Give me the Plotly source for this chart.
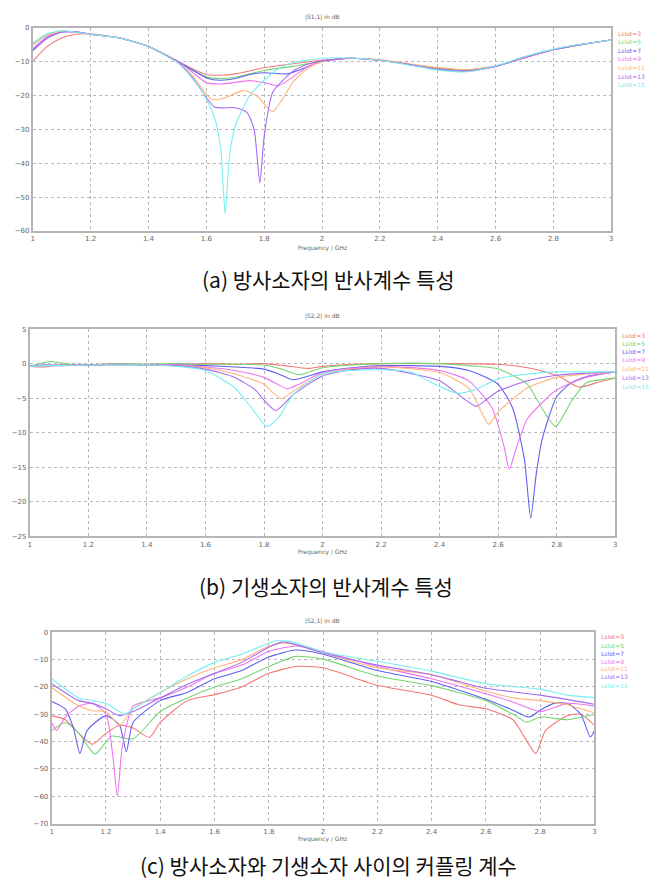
import plotly.graph_objects as go

W, H = 660, 892

names = ["Lslot=3", "Lslot=5", "Lslot=7", "Lslot=9", "Lslot=11", "Lslot=13", "Lslot=15"]
colors = ["#f47878", "#74d674", "#6060f0", "#ee74ee", "#ffb47a", "#a66cf0", "#78eef0"]

# ---------------- (a) |S1,1| in dB ----------------
common_a_x = [1.0, 1.05, 1.1, 1.15, 1.2, 1.3, 1.4, 1.5, 1.55]
a_right_x = [2.1, 2.2, 2.3, 2.4, 2.5, 2.6, 2.7, 2.8, 2.9, 3.0]
a_right_y = [-9.0, -9.6, -10.8, -12.0, -12.6, -11.4, -8.8, -6.5, -4.9, -3.6]

s11_x = {
    "Lslot=3":  [1.6, 1.65, 1.7, 1.8, 1.9, 2.0],
    "Lslot=5":  [1.6, 1.65, 1.7, 1.8, 1.9, 2.0],
    "Lslot=7":  [1.6, 1.65, 1.7, 1.75, 1.8, 1.88, 1.95, 2.0],
    "Lslot=9":  [1.6, 1.65, 1.75, 1.8, 1.85, 1.9, 1.95, 2.0],
    "Lslot=11": [1.6, 1.62, 1.66, 1.73, 1.78, 1.81, 1.83, 1.86, 1.9, 1.95, 2.0],
    "Lslot=13": [1.6, 1.63, 1.7, 1.74, 1.765, 1.785, 1.8, 1.83, 1.9, 1.95, 2.0],
    "Lslot=15": [1.6, 1.63, 1.65, 1.665, 1.68, 1.7, 1.75, 1.8, 1.85, 1.9, 2.0],
}
s11_y = {
    "Lslot=3":  [-13.8, -14.0, -13.6, -11.8, -10.6, -9.6],
    "Lslot=5":  [-14.5, -15.0, -14.6, -12.6, -11.4, -9.9],
    "Lslot=7":  [-14.8, -15.5, -15.0, -13.8, -13.3, -13.6, -11.5, -9.8],
    "Lslot=9":  [-16.2, -16.6, -15.6, -16.2, -17.1, -14.5, -11.5, -9.9],
    "Lslot=11": [-19.6, -21.2, -20.8, -18.5, -20.5, -23.5, -24.8, -21.5, -16.0, -12.0, -10.0],
    "Lslot=13": [-20.6, -23.5, -23.6, -25.0, -30.0, -45.8, -32.0, -19.0, -12.8, -10.8, -9.8],
    "Lslot=15": [-21.0, -27.0, -36.0, -55.0, -38.0, -29.0, -20.0, -15.5, -12.0, -10.3, -9.0],
}
s11_left = {
    "Lslot=3":  [-9.9, -5.5, -3.0, -1.9, -1.8, -3.0, -5.5, -9.8, -12.0],
    "Lslot=5":  [-4.6, -2.0, -1.0, -1.4, -1.9, -3.0, -5.5, -9.9, -12.3],
    "Lslot=7":  [-6.6, -3.0, -1.2, -1.2, -1.9, -3.0, -5.5, -9.9, -12.4],
    "Lslot=9":  [-6.2, -2.6, -1.1, -1.3, -1.9, -3.0, -5.5, -10.0, -13.0],
    "Lslot=11": [-5.0, -2.2, -1.0, -1.4, -1.9, -3.0, -5.5, -10.2, -14.0],
    "Lslot=13": [-6.8, -3.0, -1.3, -1.2, -1.9, -3.0, -5.5, -10.2, -14.5],
    "Lslot=15": [-4.6, -1.8, -0.9, -1.3, -1.9, -3.0, -5.5, -10.3, -14.8],
}
a_right_off = {
    "Lslot=3": [0.0, 0.0, -0.1, 0.0, 0.1, 0.1, 0.0, 0.1, 0.0, 0.0],
    "Lslot=5": [0.0, 0.1, 0.0, 0.1, 0.1, 0.0, 0.0, 0.0, 0.0, 0.0],
    "Lslot=7": [0.0, 0.0, 0.0, -0.2, -0.1, 0.0, 0.0, 0.0, 0.0, 0.0],
    "Lslot=9": [0.0, 0.0, 0.0, -0.2, -0.2, 0.0, -0.1, 0.0, 0.0, 0.0],
    "Lslot=11": [0.0, 0.2, 0.2, 0.3, 0.2, 0.1, 0.0, 0.0, 0.0, 0.0],
    "Lslot=13": [0.0, 0.0, 0.0, -0.3, -0.2, 0.0, 0.0, 0.0, 0.0, 0.0],
    "Lslot=15": [0.1, 0.0, -0.2, -0.5, -0.4, 0.1, 0.3, 0.2, 0.1, 0.0],
}

# ---------------- (b) |S2,2| in dB ----------------
s22_x = {
    "Lslot=3":  [1.0, 1.05, 1.1, 1.2, 1.3, 1.4, 1.5, 1.6, 1.7, 1.8, 1.87, 1.95, 2.0, 2.1, 2.2, 2.4, 2.6, 2.7, 2.8, 2.876, 2.95, 3.0],
    "Lslot=5":  [1.0, 1.07, 1.12, 1.2, 1.3, 1.4, 1.5, 1.6, 1.7, 1.8, 1.86, 1.92, 2.0, 2.1, 2.2, 2.4, 2.5, 2.6, 2.7, 2.75, 2.796, 2.85, 2.9, 3.0],
    "Lslot=7":  [1.0, 1.05, 1.1, 1.2, 1.3, 1.4, 1.5, 1.6, 1.7, 1.8, 1.85, 1.9, 2.0, 2.1, 2.2, 2.4, 2.5, 2.6, 2.65, 2.69, 2.711, 2.73, 2.75, 2.8, 2.85, 2.9, 3.0],
    "Lslot=9":  [1.0, 1.05, 1.1, 1.2, 1.3, 1.4, 1.5, 1.6, 1.7, 1.8, 1.85, 1.88, 1.92, 2.0, 2.1, 2.2, 2.4, 2.5, 2.58, 2.62, 2.638, 2.66, 2.7, 2.8, 2.9, 3.0],
    "Lslot=11": [1.0, 1.05, 1.1, 1.2, 1.3, 1.4, 1.5, 1.6, 1.7, 1.8, 1.83, 1.86, 1.9, 2.0, 2.1, 2.2, 2.4, 2.5, 2.54, 2.568, 2.6, 2.7, 2.8, 2.9, 3.0],
    "Lslot=13": [1.0, 1.05, 1.1, 1.2, 1.3, 1.4, 1.5, 1.6, 1.7, 1.77, 1.8, 1.84, 1.9, 2.0, 2.1, 2.2, 2.4, 2.48, 2.525, 2.56, 2.6, 2.7, 2.8, 2.9, 3.0],
    "Lslot=15": [1.0, 1.05, 1.1, 1.2, 1.3, 1.4, 1.5, 1.6, 1.7, 1.75, 1.81, 1.85, 1.9, 2.0, 2.1, 2.2, 2.3, 2.36, 2.46, 2.52, 2.6, 2.7, 2.8, 2.9, 3.0],
}
s22_y = {
    "Lslot=3":  [-0.4, -0.5, -0.2, -0.2, 0.0, -0.1, -0.1, 0.0, -0.1, 0.0, -0.3, -0.7, -0.4, -0.1, 0.0, 0.0, -0.1, -0.6, -1.7, -3.4, -2.6, -2.1],
    "Lslot=5":  [-0.4, 0.3, 0.0, -0.3, 0.0, -0.1, 0.0, -0.1, -0.1, -0.2, -0.8, -1.6, -0.6, -0.2, 0.0, 0.0, -0.3, -0.8, -3.0, -6.5, -9.1, -5.5, -2.8, -2.1],
    "Lslot=7":  [-0.3, -0.2, -0.2, -0.2, -0.1, -0.2, -0.2, -0.3, -0.5, -0.8, -1.5, -2.35, -1.2, -0.6, -0.3, -0.4, -1.0, -3.0, -6.5, -14.0, -22.4, -16.0, -11.0, -4.8, -2.8, -1.9, -1.2],
    "Lslot=9":  [-0.4, -0.2, -0.3, -0.2, -0.1, -0.2, -0.2, -0.5, -1.0, -2.0, -3.1, -3.65, -3.0, -1.3, -0.7, -0.4, -1.0, -2.5, -6.5, -12.0, -15.3, -12.5, -8.0, -3.8, -2.0, -1.2],
    "Lslot=11": [-0.4, -0.3, -0.2, -0.2, -0.1, -0.2, -0.3, -0.6, -1.5, -3.0, -4.2, -5.1, -4.0, -1.5, -0.8, -0.5, -1.3, -3.6, -6.8, -8.8, -7.0, -3.5, -2.0, -1.5, -1.2],
    "Lslot=13": [-0.4, -0.3, -0.3, -0.2, -0.2, -0.2, -0.3, -0.8, -2.0, -3.8, -5.3, -6.8, -4.5, -1.8, -0.9, -0.7, -2.5, -5.0, -6.2, -5.2, -4.0, -2.5, -1.7, -1.4, -1.2],
    "Lslot=15": [-0.4, -0.3, -0.3, -0.2, -0.2, -0.2, -0.4, -1.0, -3.5, -6.0, -9.1, -7.8, -4.5, -1.5, -1.0, -0.9, -1.2, -2.5, -4.3, -3.8, -2.2, -1.5, -1.2, -1.2, -1.2],
}

# ---------------- (c) |S2,1| in dB ----------------
s21_x = {
    "Lslot=3":  [1.0, 1.05, 1.1, 1.15, 1.2, 1.25, 1.3, 1.36, 1.4, 1.5, 1.6, 1.7, 1.8, 1.9, 2.0, 2.2, 2.4, 2.5, 2.6, 2.7, 2.74, 2.784, 2.82, 2.9, 2.95, 3.0],
    "Lslot=5":  [1.0, 1.05, 1.1, 1.16, 1.22, 1.3, 1.4, 1.5, 1.6, 1.7, 1.8, 1.9, 2.0, 2.2, 2.4, 2.6, 2.7, 2.75, 2.8, 2.9, 3.0],
    "Lslot=7":  [1.0, 1.05, 1.08, 1.104, 1.13, 1.2, 1.25, 1.275, 1.3, 1.4, 1.5, 1.6, 1.7, 1.8, 1.9, 2.0, 2.2, 2.4, 2.6, 2.7, 2.76, 2.8, 2.85, 2.9, 2.95, 2.985, 3.0],
    "Lslot=9":  [1.0, 1.018, 1.05, 1.1, 1.15, 1.2, 1.225, 1.242, 1.26, 1.3, 1.4, 1.5, 1.6, 1.7, 1.8, 1.9, 2.0, 2.2, 2.4, 2.6, 2.7, 2.8, 2.9, 3.0],
    "Lslot=11": [1.0, 1.1, 1.15, 1.2, 1.25, 1.3, 1.4, 1.5, 1.6, 1.7, 1.8, 1.85, 1.9, 2.0, 2.2, 2.4, 2.6, 2.7, 2.8, 2.9, 3.0],
    "Lslot=13": [1.0, 1.1, 1.15, 1.2, 1.25, 1.3, 1.4, 1.5, 1.6, 1.7, 1.8, 1.85, 1.9, 2.0, 2.2, 2.4, 2.5, 2.6, 2.8, 3.0],
    "Lslot=15": [1.0, 1.1, 1.15, 1.2, 1.27, 1.3, 1.4, 1.5, 1.6, 1.7, 1.8, 1.83, 1.9, 2.0, 2.2, 2.4, 2.6, 2.8, 2.9, 3.0],
}
s21_y = {
    "Lslot=3":  [-30.5, -32.0, -37.0, -41.0, -37.0, -34.0, -35.0, -38.5, -33.0, -25.0, -22.8, -20.0, -15.0, -12.5, -13.0, -19.4, -23.0, -26.5, -28.0, -32.0, -38.0, -44.3, -36.0, -30.5, -30.0, -34.0],
    "Lslot=5":  [-36.0, -33.0, -37.0, -44.6, -38.0, -39.0, -29.0, -24.0, -20.0, -17.0, -12.5, -8.8, -9.8, -16.0, -19.5, -25.0, -30.0, -32.9, -31.0, -32.0, -30.0],
    "Lslot=7":  [-25.3, -28.0, -35.0, -44.3, -36.0, -30.5, -34.0, -43.7, -33.0, -25.0, -22.0, -17.0, -14.0, -9.0, -6.5, -8.0, -14.0, -18.0, -24.5, -28.5, -31.0, -28.5, -26.0, -26.0, -30.0, -38.3, -36.0],
    "Lslot=9":  [-33.0, -35.9, -31.0, -27.0, -26.0, -30.0, -45.0, -60.0, -42.0, -27.0, -24.0, -20.0, -15.0, -12.0, -7.0, -5.0, -7.0, -12.5, -17.0, -22.5, -25.5, -29.0, -26.0, -27.0],
    "Lslot=11": [-20.2, -27.0, -28.7, -29.0, -34.0, -28.0, -22.0, -17.0, -13.0, -10.0, -5.0, -4.0, -4.5, -7.5, -13.0, -15.5, -21.5, -24.0, -25.0, -26.5, -29.5],
    "Lslot=13": [-18.8, -25.0, -26.0, -28.0, -30.5, -29.0, -24.0, -19.0, -15.0, -11.0, -5.5, -3.5, -4.5, -7.5, -12.0, -15.5, -18.0, -20.5, -23.0, -26.3],
    "Lslot=15": [-17.0, -24.0, -25.0, -26.0, -30.0, -28.0, -22.0, -16.0, -11.0, -8.0, -4.0, -3.0, -3.8, -7.2, -10.6, -14.2, -18.8, -20.8, -23.0, -23.9],
}

fig = go.Figure()

def px_x(p):
    return p / W

def px_y(p):
    return 1 - p / H

# panel definitions: (xaxis name, yaxis name, x-domain px, y-domain px, y range, y dtick)
panels = [
    ("x", "y", (31, 613), (24, 229), (-60, 0), 10),
    ("x2", "y2", (28, 617), (328, 537), (-25, 5), 5),
    ("x3", "y3", (50, 596), (634, 827), (-70, 0), 10),
]

for i, n in enumerate(names):
    xa = common_a_x + s11_x[n] + a_right_x
    ya = s11_left[n] + s11_y[n] + [a + b for a, b in zip(a_right_y, a_right_off[n])]
    fig.add_trace(go.Scatter(x=xa, y=ya, mode="lines", name=n, showlegend=False,
                             line=dict(color=colors[i], width=1.1, shape="spline", smoothing=0.6),
                             xaxis="x", yaxis="y"))
    fig.add_trace(go.Scatter(x=s22_x[n], y=s22_y[n], mode="lines", name=n, showlegend=False,
                             line=dict(color=colors[i], width=1.1, shape="spline", smoothing=0.6),
                             xaxis="x2", yaxis="y2"))
    fig.add_trace(go.Scatter(x=s21_x[n], y=s21_y[n], mode="lines", name=n, showlegend=False,
                             line=dict(color=colors[i], width=1.1, shape="spline", smoothing=0.6),
                             xaxis="x3", yaxis="y3"))

axis_common = dict(showline=True, mirror=True, linecolor="#b5b5b5", linewidth=2,
                   showgrid=True, gridcolor="#b8b8b8", griddash="dot", gridwidth=1,
                   zeroline=False, ticks="", tickfont=dict(family="DejaVu Sans", size=7, color="#666666"))

layout = dict(width=W, height=H, margin=dict(l=0, r=0, t=0, b=0),
              paper_bgcolor="white", plot_bgcolor="white", showlegend=False)

for k, (xn, yn, xd, yd, yr, dt) in enumerate(panels):
    xkey = "xaxis" if xn == "x" else "xaxis" + xn[1:]
    ykey = "yaxis" if yn == "y" else "yaxis" + yn[1:]
    layout[xkey] = dict(axis_common, domain=[px_x(xd[0]), px_x(xd[1])], range=[1, 3],
                        tickvals=[1, 1.2, 1.4, 1.6, 1.8, 2, 2.2, 2.4, 2.6, 2.8, 3],
                        ticktext=["1", "1.2", "1.4", "1.6", "1.8", "2", "2.2", "2.4", "2.6", "2.8", "3"],
                        anchor=yn)
    layout[ykey] = dict(axis_common, domain=[px_y(yd[1]), px_y(yd[0])], range=list(yr),
                        dtick=dt, anchor=xn)

fig.update_layout(**layout)

annots = []
small = dict(family="DejaVu Sans", size=6, color="#666666")
titles = ["|S1,1| in dB", "|S2,2| in dB", "|S2,1| in dB"]
title_y = [13, 315, 623]
freq_y = [246, 553, 843]
for t, ty, fy in zip(titles, title_y, freq_y):
    annots.append(dict(text=t, x=px_x(322), y=px_y(ty), xref="paper", yref="paper",
                       showarrow=False, font=small, xanchor="center", yanchor="middle"))
    annots.append(dict(text="Frequency / GHz", x=px_x(322), y=px_y(fy), xref="paper", yref="paper",
                       showarrow=False, font=small, xanchor="center", yanchor="middle"))

leg_x = [618, 622, 601]
leg_y = [[30, 38, 47, 55, 64, 73, 81], [334, 343, 351, 359, 368, 377, 386], [638, 647, 655, 663, 671, 679, 688]]
for lx, lys in zip(leg_x, leg_y):
    for i, n in enumerate(names):
        annots.append(dict(text=n, x=px_x(lx), y=px_y(lys[i]), xref="paper", yref="paper",
                           showarrow=False, xanchor="left", yanchor="middle",
                           font=dict(family="DejaVu Sans", size=6, color=colors[i])))

captions = ["(a) 방사소자의 반사계수 특성", "(b) 기생소자의 반사계수 특성", "(c) 방사소자와 기생소자 사이의 커플링 계수"]
cap_y = [277, 587, 869]
cap_x = [328, 326, 328]
for c, cy, cx in zip(captions, cap_y, cap_x):
    annots.append(dict(text=c, x=px_x(cx), y=px_y(cy), xref="paper", yref="paper",
                       showarrow=False, xanchor="center", yanchor="middle",
                       font=dict(family="Noto Sans CJK KR", size=21, color="#111111")))

fig.update_layout(annotations=annots)
fig.write_html("out.html")
